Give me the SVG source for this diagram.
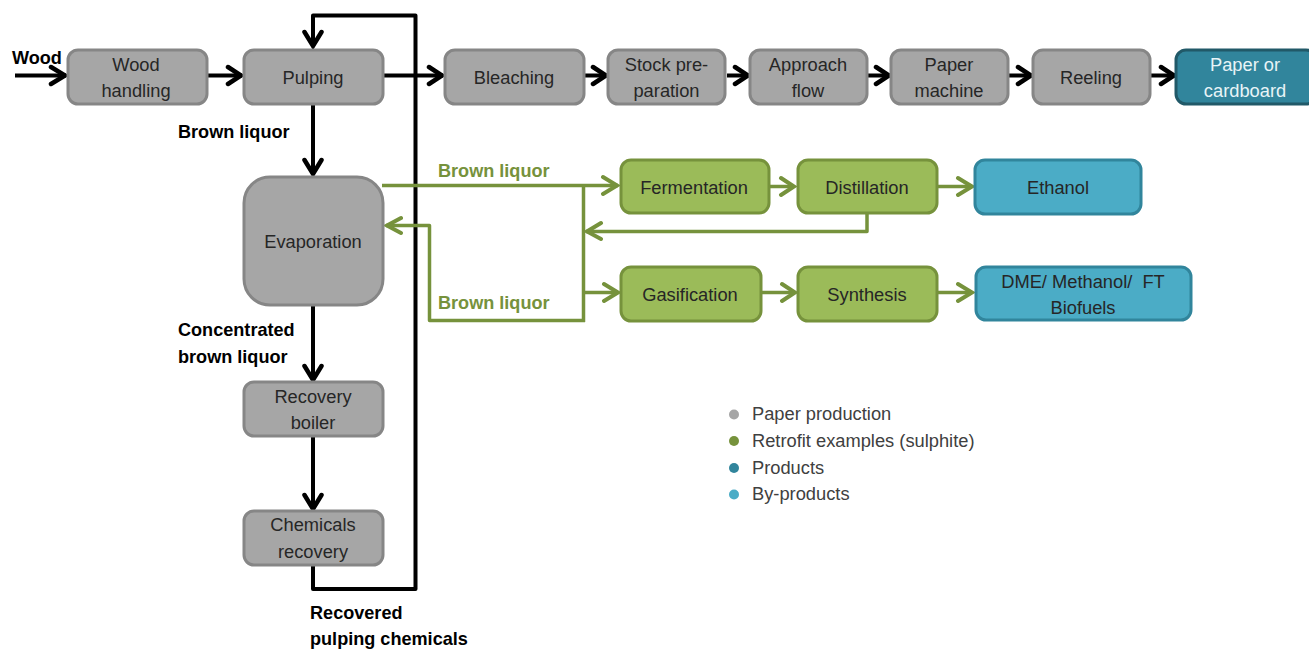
<svg xmlns="http://www.w3.org/2000/svg" width="1309" height="650" viewBox="0 0 1309 650">
<style>
text{font-family:"Liberation Sans",Arial,sans-serif;font-size:18.3px;fill:#262626;text-anchor:middle}
.lab{font-weight:bold;font-size:18.1px;fill:#000;text-anchor:start}
.glab{font-weight:bold;font-size:18.1px;fill:#76923c;text-anchor:start}
.leg{text-anchor:start;fill:#404040}
.g rect{fill:#a6a6a6;stroke:#868686;stroke-width:3}
.v rect{fill:#9bbb59;stroke:#76923c;stroke-width:3}
.p rect{fill:#31859c;stroke:#215968;stroke-width:3}
.b rect{fill:#4bacc6;stroke:#31859c;stroke-width:3}
.k{fill:none;stroke:#000;stroke-width:4;stroke-linejoin:round}
.o{fill:none;stroke:#76923c;stroke-width:3.5;stroke-linejoin:round}
.kh{fill:none;stroke:#000;stroke-width:4.500;stroke-linecap:round;stroke-linejoin:miter}
.oh{fill:none;stroke:#76923c;stroke-width:4;stroke-linecap:round;stroke-linejoin:miter}
</style>
<g id="connectors">
<path class="k" d="M15 75.500H66M206 75.500H242M382 75.500H443M583 75.500H607M727 75.500H749M867 75.500H890M1008 75.500H1032M1149 75.500H1175"/>
<path class="k" d="M313 103V175M313 305V381M313 435V510"/>
<path class="k" d="M313 565V589H415.500V15.500H313V47"/>
<path class="kh" d="M51 67L65 75.500L51 84M228 67L241 75.500L228 84M429 67L442 75.500L429 84M593 67L606 75.500L593 84M735 67L748 75.500L735 84M876 67L889 75.500L876 84M1018 67L1031 75.500L1018 84M1161 67L1174 75.500L1161 84"/>
<path class="kh" d="M304.500 32L313 46L321.500 32M304.500 160L313 174L321.500 160M304.500 366L313 380L321.500 366M304.500 495L313 509L321.500 495"/>
<path class="o" d="M382 185.500H618M583.500 185.500V322M585 320.500H429.500V225.500H386M867 214V231.500H586M584 292.500H618M769 186.500H794M937 186.500H972M761 292.500H795M937 292.500H972"/>
<path class="oh" d="M603 177L617 185.500L603 194M401 218L387 225.500L401 233M601 223L587 231.500L601 239M604 284L618 292.500L604 301M781 178L794 186.500L781 195M958 178L972 186.500L958 195M782 284L795 292.500L782 301M958 284L972 292.500L958 301"/>
</g>
<g id="wood-handling" class="g"><rect x="68" y="50" width="139" height="54" rx="10"/><text x="136" y="71">Wood</text><text x="136" y="97">handling</text></g>
<g id="pulping" class="g"><rect x="244" y="50" width="139" height="54" rx="10"/><text x="313" y="84">Pulping</text></g>
<g id="bleaching" class="g"><rect x="445" y="50" width="139" height="54" rx="10"/><text x="514" y="84">Bleaching</text></g>
<g id="stock" class="g"><rect x="608" y="50" width="117" height="54" rx="10"/><text x="666.500" y="71">Stock pre-</text><text x="666.500" y="97">paration</text></g>
<g id="approach" class="g"><rect x="750" y="50" width="117" height="54" rx="10"/><text x="808" y="71">Approach</text><text x="808" y="97">flow</text></g>
<g id="paper-machine" class="g"><rect x="891" y="50" width="117" height="54" rx="10"/><text x="949" y="71">Paper</text><text x="949" y="97">machine</text></g>
<g id="reeling" class="g"><rect x="1033" y="50" width="117" height="54" rx="10"/><text x="1091" y="84">Reeling</text></g>
<g id="paper-cardboard" class="p"><rect x="1176" y="50" width="140" height="54" rx="10"/><text x="1245" y="71" style="fill:#e8f4f7">Paper or</text><text x="1245" y="97" style="fill:#e8f4f7">cardboard</text></g>
<g id="evaporation" class="g"><rect x="244" y="177" width="139" height="128" rx="26"/><text x="313" y="248">Evaporation</text></g>
<g id="recovery-boiler" class="g"><rect x="244" y="382" width="139" height="54" rx="10"/><text x="313" y="403">Recovery</text><text x="313" y="429">boiler</text></g>
<g id="chemicals-recovery" class="g"><rect x="244" y="511" width="139" height="54" rx="10"/><text x="313" y="531">Chemicals</text><text x="313" y="558">recovery</text></g>
<g id="fermentation" class="v"><rect x="621" y="160" width="148" height="53" rx="10"/><text x="694" y="194">Fermentation</text></g>
<g id="distillation" class="v"><rect x="798" y="160" width="139" height="53" rx="10"/><text x="867" y="194">Distillation</text></g>
<g id="ethanol" class="b"><rect x="975" y="160" width="166" height="54" rx="10"/><text x="1058" y="194">Ethanol</text></g>
<g id="gasification" class="v"><rect x="621" y="267" width="140" height="54" rx="10"/><text x="690" y="301">Gasification</text></g>
<g id="synthesis" class="v"><rect x="798" y="267" width="139" height="54" rx="10"/><text x="867" y="301">Synthesis</text></g>
<g id="biofuels" class="b"><rect x="976" y="267" width="215" height="53" rx="10"/><text x="1083" y="288" style="white-space:pre">DME/ Methanol/  FT</text><text x="1083" y="314">Biofuels</text></g>
<g id="labels">
<text class="lab" x="12" y="64">Wood</text>
<text class="lab" x="178" y="138">Brown liquor</text>
<text class="glab" x="438" y="177">Brown liquor</text>
<text class="glab" x="438" y="309">Brown liquor</text>
<text class="lab" x="178" y="336">Concentrated</text>
<text class="lab" x="178" y="363">brown liquor</text>
<text class="lab" x="310" y="619">Recovered</text>
<text class="lab" x="310" y="645">pulping chemicals</text>
</g>
<g id="legend">
<circle cx="734" cy="414.500" r="5" fill="#a6a6a6"/><text class="leg" x="752" y="420">Paper production</text>
<circle cx="734" cy="441" r="5" fill="#76923c"/><text class="leg" x="752" y="447">Retrofit examples (sulphite)</text>
<circle cx="734" cy="468" r="5" fill="#31859c"/><text class="leg" x="752" y="474">Products</text>
<circle cx="734" cy="494.500" r="5" fill="#4bacc6"/><text class="leg" x="752" y="500">By-products</text>
</g>
</svg>
